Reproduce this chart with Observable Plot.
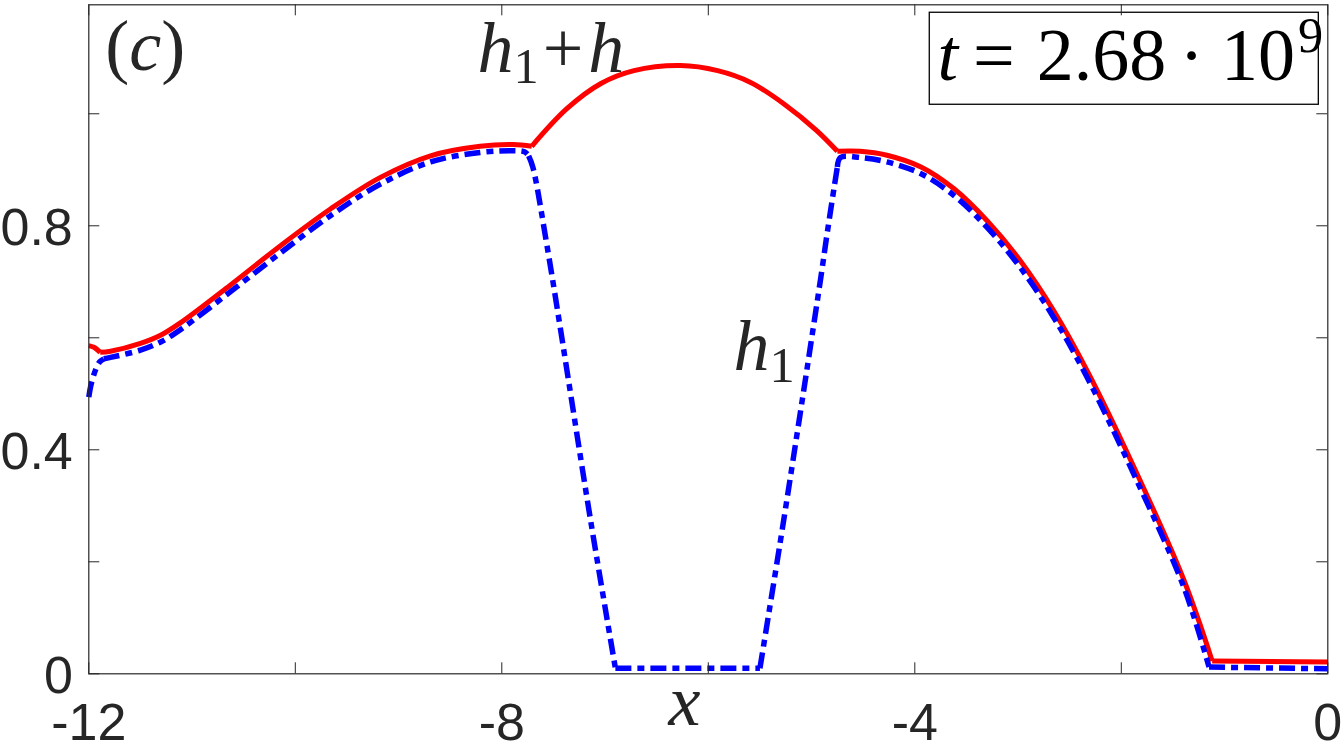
<!DOCTYPE html>
<html><head><meta charset="utf-8">
<script src="https://cdn.jsdelivr.net/npm/d3@7"></script>
<script src="https://cdn.jsdelivr.net/npm/@observablehq/plot@0.6"></script>
<style>
html,body{margin:0;padding:0;background:#fff;}
#chart svg{display:block;}
</style></head><body><div id="chart"></div>
<script>
// h1 + h (red, solid)
const redX = [-12, -11.95, -11.89, -11.79, -11.50, -11.30, -11.11, -10.63, -10.14, -9.66, -9.18, -8.69, -8.21, -7.89, -7.71, -7.37, -7.04, -6.72, -6.27, -5.91, -5.59, -5.27, -4.95, -4.75, -4.53, -4.27, -3.94, -3.62, -3.30, -2.98, -2.65, -2.33, -1.895, -1.395, -1.12, 0];
const redY = [0.586, 0.583, 0.574, 0.576, 0.590, 0.605, 0.627, 0.694, 0.765, 0.830, 0.886, 0.925, 0.942, 0.945, 0.942, 1.009, 1.054, 1.077, 1.086, 1.077, 1.056, 1.018, 0.970, 0.933, 0.933, 0.926, 0.905, 0.866, 0.809, 0.738, 0.647, 0.541, 0.376, 0.168, 0.023, 0.021];
const redKinks = [-11.89, -7.71, -4.75, -1.12];
// h1 (blue, dash-dot)
const blueX = [-12, -11.98, -11.94, -11.90, -11.855, -11.79, -11.50, -11.30, -11.11, -10.63, -10.14, -9.66, -9.18, -8.69, -8.21, -7.89, -7.78, -7.74, -7.70, -7.56, -7.14, -6.90, -5.50, -5.27, -4.91, -4.85, -4.78, -4.75, -4.72, -4.53, -4.27, -3.94, -3.62, -3.30, -2.98, -2.65, -2.33, -1.895, -1.395, -1.15, 0];
const blueY = [0.494, 0.515, 0.540, 0.556, 0.5625, 0.565, 0.578, 0.593, 0.615, 0.682, 0.752, 0.818, 0.874, 0.914, 0.931, 0.934, 0.932, 0.925, 0.905, 0.762, 0.274, 0.010, 0.010, 0.274, 0.708, 0.785, 0.870, 0.905, 0.922, 0.922, 0.914, 0.893, 0.854, 0.797, 0.726, 0.635, 0.529, 0.363, 0.155, 0.012, 0.009];
const blueKinks = [-11.855, -7.74, -6.90, -5.50, -4.75, -1.15];

const xTickValues = [-12, -10, -8, -6, -4, -2, 0];
const yTickValues = [0, 0.2, 0.4, 0.6, 0.8, 1.0];
const xLabelValues = [-12, -8, -4, 0];
const xTickLabels = ["-12", "-8", "-4", "0"];
const yLabelValues = [0, 0.4, 0.8];
const yTickLabels = ["0", "0.4", "0.8"];

const annotations = [
  {x: -11.84, y: 1.079, text: "(c)"},
  {x: -8.235, y: 1.074, text: "h1+h"},
  {x: -5.757, y: 0.542, text: "h1"},
  {x: -6.385, y: -0.092, text: "x"}
];
const timeLabel = [{x: -3.78, y: 1.0595, text: "t=2.68*10^9"}];
const timeBox = [{x1: -3.855, x2: -0.087, y1: 1.0161, y2: 1.1804}];

// split each curve at its kinks so that smooth parts are smooth and kinks stay sharp
function segmentize(xs, ys, kinks) {
  const out = [];
  let seg = 0;
  xs.forEach((x, i) => {
    out.push({x, y: ys[i], seg});
    if (kinks.includes(x) && i > 0 && i < xs.length - 1) {
      seg++;
      out.push({x, y: ys[i], seg});
    }
  });
  return out;
}
const redData = segmentize(redX, redY, redKinks);
const blueData = segmentize(blueX, blueY, blueKinks);

const W = 1342, H = 746, mL = 88.3, mR = 14.7, mT = 4.3, mB = 72.7;
const frameW = W - mL - mR, frameH = H - mT - mB, tick = 11;
const axisColor = "#262626";
const serif = "'Liberation Serif', 'DejaVu Serif', serif";

const svg = Plot.plot({
  width: W, height: H,
  marginLeft: mL, marginRight: mR, marginTop: mT, marginBottom: mB,
  x: {domain: [-12, 0], axis: null},
  y: {domain: [0, 1.1946], axis: null},
  style: {background: "white", fontFamily: "'Liberation Sans', Arial, sans-serif", color: axisColor},
  marks: [
    Plot.rect(timeBox, {x1: "x1", x2: "x2", y1: "y1", y2: "y2", fill: "white", stroke: "black", strokeWidth: 1.3}),
    Plot.line(redData, {x: "x", y: "y", z: "seg", curve: "catmull-rom", stroke: "#ff0000", strokeWidth: 5, strokeLinejoin: "round", strokeLinecap: "butt"}),
    Plot.line(blueData, {x: "x", y: "y", z: "seg", curve: "catmull-rom", stroke: "#0000ff", strokeWidth: 5.5, strokeLinejoin: "round", strokeLinecap: "butt", strokeDasharray: "16,6,7,6"}),
    Plot.ruleX(xTickValues, {x: d => d, insetTop: frameH - tick, stroke: axisColor, strokeWidth: 1}),
    Plot.ruleX(xTickValues, {x: d => d, insetBottom: frameH - tick, stroke: axisColor, strokeWidth: 1}),
    Plot.ruleY(yTickValues, {y: d => d, insetRight: frameW - tick, stroke: axisColor, strokeWidth: 1}),
    Plot.ruleY(yTickValues, {y: d => d, insetLeft: frameW - tick, stroke: axisColor, strokeWidth: 1}),
    Plot.frame({stroke: axisColor, strokeWidth: 1.2}),
    Plot.text(xLabelValues, {x: d => d, text: (d, i) => xTickLabels[i], frameAnchor: "bottom", lineAnchor: "bottom", dy: 66, fontSize: 52, fill: axisColor}),
    Plot.text(yLabelValues, {y: d => d, text: (d, i) => yTickLabels[i], frameAnchor: "left", textAnchor: "end", dx: -16, dy: 3, fontSize: 52, fill: axisColor}),
    Plot.text(annotations, {x: "x", y: "y", text: "text", textAnchor: "start", lineAnchor: "bottom", fontSize: 72, fontFamily: serif, fill: axisColor}),
    Plot.text(timeLabel, {x: "x", y: "y", text: "text", textAnchor: "start", lineAnchor: "bottom", fontSize: 74, fontFamily: serif, fill: "black"})
  ]
});

const specs = {
  "(c)": [{t: "("}, {t: "c", i: 1}, {t: ")"}],
  "h1+h": [{t: "h", i: 1}, {t: "1", s: 0.7, dy: 11}, {t: "+", dx: 4, dy: -11}, {t: "h", i: 1, dx: 5}],
  "h1": [{t: "h", i: 1}, {t: "1", s: 0.7, dy: 12}],
  "x": [{t: "x", i: 1}],
  "t=2.68*10^9": [{t: "t", i: 1}, {t: "=", dx: 15}, {t: "2.68", dx: 22}, {t: "\u00b7", dx: 13}, {t: "10", dx: 17}, {t: "9", s: 0.68, dx: 3, dy: -28}]
};
d3.select(svg).selectAll("text").each(function() {
  const spec = specs[this.textContent];
  if (!spec) return;
  const el = d3.select(this);
  const fs = parseFloat(this.closest("g").getAttribute("font-size")) || 72;
  el.text(null).attr("font-family", serif).style("font-family", serif);
  spec.forEach(p => {
    const ts = el.append("tspan").text(p.t)
      .attr("font-style", p.i ? "italic" : "normal")
      .style("font-family", serif);
    if (p.s) ts.attr("font-size", fs * p.s);
    if (p.dx) ts.attr("dx", p.dx);
    if (p.dy) ts.attr("dy", p.dy);
  });
});

document.getElementById("chart").appendChild(svg);
</script></body></html>
